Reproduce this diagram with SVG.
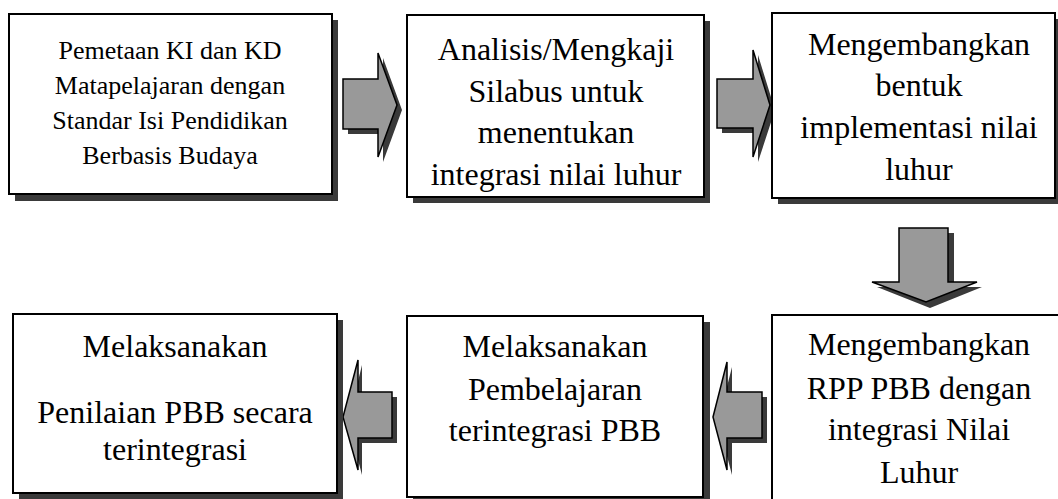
<svg xmlns="http://www.w3.org/2000/svg" width="1058" height="499" viewBox="0 0 1058 499">
<style>
.box{fill:#fff;stroke:#000;stroke-width:2}
.sh{fill:#3a3a3a}
.arr{fill:#999;stroke:#000;stroke-width:1.5;stroke-linejoin:miter}
.ash{fill:#3a3a3a}
.lbl{font-family:"Liberation Serif","Times New Roman",serif;text-anchor:middle;fill:#000}
.t1{font-size:26px}
.t2{font-size:32px}
</style>
<rect width="1058" height="499" fill="#fff"/>
<g id="connectors">
  <g id="a1">
    <polygon class="ash" points="348,84 383,84 383,58 402,110 383,162 383,134 348,134"/>
    <polygon class="arr" points="343,79 378,79 378,53 397,105 378,157 378,129 343,129"/>
  </g>
  <g id="a2">
    <polygon class="ash" points="722,84 758,84 758,55 775,110 758,162 758,133 722,133"/>
    <polygon class="arr" points="717,79 753,79 753,50 770,105 753,157 753,128 717,128"/>
  </g>
  <g id="a3">
    <polygon class="ash" points="905,233 954,233 954,287 982,287 930,308 877,287 905,287"/>
    <polygon class="arr" points="899,228 948,228 948,282 977,282 926,302 872,282 899,282"/>
  </g>
  <g id="a4">
    <polygon class="ash" points="348,422 362,365 362,397 397,397 397,443 362,443 362,475"/>
    <polygon class="arr" points="343,417 358,360 358,392 392,392 392,438 358,438 358,470"/>
  </g>
  <g id="a5">
    <polygon class="ash" points="718,422 732,367 732,397 767,397 767,443 732,443 732,475"/>
    <polygon class="arr" points="713,417 727,362 727,392 762,392 762,438 727,438 727,470"/>
  </g>
</g>
<g id="n1">
  <rect class="sh" x="15" y="20" width="323" height="181"/>
  <rect class="box" x="9" y="14" width="323" height="180"/>
  <text class="lbl t1" font-family="Liberation Serif, serif" x="170" y="59">Pemetaan KI dan KD</text>
  <text class="lbl t1" font-family="Liberation Serif, serif" x="170" y="94">Matapelajaran dengan</text>
  <text class="lbl t1" font-family="Liberation Serif, serif" x="170" y="129">Standar Isi Pendidikan</text>
  <text class="lbl t1" font-family="Liberation Serif, serif" x="170" y="164">Berbasis Budaya</text>
</g>
<g id="n2">
  <rect class="sh" x="413" y="21" width="297" height="182"/>
  <rect class="box" x="407" y="15" width="297" height="182"/>
  <text class="lbl t2" font-family="Liberation Serif, serif" x="556" y="60">Analisis/Mengkaji</text>
  <text class="lbl t2" font-family="Liberation Serif, serif" x="556" y="102">Silabus untuk</text>
  <text class="lbl t2" font-family="Liberation Serif, serif" x="556" y="143">menentukan</text>
  <text class="lbl t2" font-family="Liberation Serif, serif" x="556" y="185">integrasi nilai luhur</text>
</g>
<g id="n3">
  <rect class="sh" x="778" y="19" width="290" height="185"/>
  <rect class="box" x="772" y="13" width="283" height="185"/>
  <text class="lbl t2" font-family="Liberation Serif, serif" x="919" y="55">Mengembangkan</text>
  <text class="lbl t2" font-family="Liberation Serif, serif" x="919" y="96">bentuk</text>
  <text class="lbl t2" font-family="Liberation Serif, serif" x="919" y="138">implementasi nilai</text>
  <text class="lbl t2" font-family="Liberation Serif, serif" x="919" y="180">luhur</text>
</g>
<g id="n4">
  <rect class="sh" x="19" y="320" width="324" height="180"/>
  <rect class="box" x="13" y="314" width="324" height="179"/>
  <text class="lbl t2" font-family="Liberation Serif, serif" x="175" y="357">Melaksanakan</text>
  <text class="lbl t2" font-family="Liberation Serif, serif" x="175" y="423">Penilaian PBB secara</text>
  <text class="lbl t2" font-family="Liberation Serif, serif" x="175" y="460">terintegrasi</text>
</g>
<g id="n5">
  <rect class="sh" x="413" y="322" width="297" height="185"/>
  <rect class="box" x="407" y="316" width="296" height="181"/>
  <text class="lbl t2" font-family="Liberation Serif, serif" x="555" y="357">Melaksanakan</text>
  <text class="lbl t2" font-family="Liberation Serif, serif" x="555" y="400">Pembelajaran</text>
  <text class="lbl t2" font-family="Liberation Serif, serif" x="555" y="441">terintegrasi PBB</text>
</g>
<g id="n6">
  <rect class="sh" x="778" y="321" width="300" height="200"/>
  <rect class="box" x="772" y="315" width="300" height="200"/>
  <text class="lbl t2" font-family="Liberation Serif, serif" x="919" y="355">Mengembangkan</text>
  <text class="lbl t2" font-family="Liberation Serif, serif" x="919" y="399">RPP PBB dengan</text>
  <text class="lbl t2" font-family="Liberation Serif, serif" x="919" y="440">integrasi Nilai</text>
  <text class="lbl t2" font-family="Liberation Serif, serif" x="919" y="483">Luhur</text>
</g>
</svg>
